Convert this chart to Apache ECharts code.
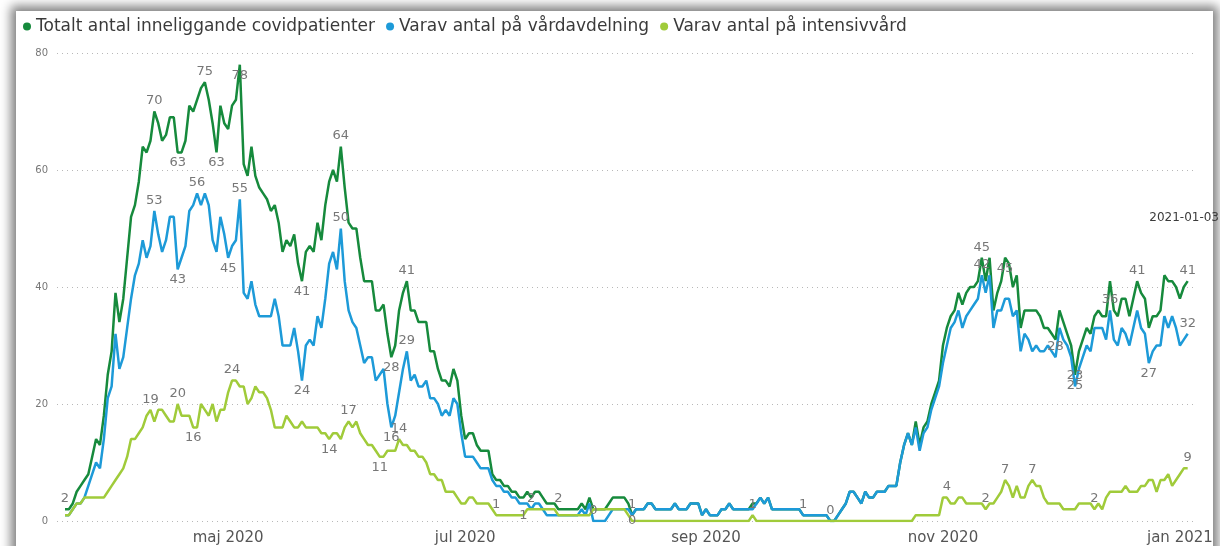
<!DOCTYPE html>
<html>
<head>
<meta charset="utf-8">
<script src="https://cdn.jsdelivr.net/npm/echarts@6/dist/echarts.min.js"></script>
<style>
  html, body { margin: 0; padding: 0; background: #fff; overflow: hidden; }
  #card { position: absolute; left: 16px; top: 11px; width: 1197px; height: 600px; background: #fff; box-shadow: 0 0 10px 5px rgba(0, 0, 0, 0.5); }
  #chart { position: absolute; left: 0; top: 0; width: 1220px; height: 546px; }
</style>
</head>
<body>
<div id="card"></div>
<div id="chart"></div>
<script>
// one value per day, day 0 = 2020-03-20, last day = 2021-01-03
const seriesNames = [
  'Totalt antal inneliggande covidpatienter',
  'Varav antal på vårdavdelning',
  'Varav antal på intensivvård'
]

const totalt = [
  2, 2, 3, 5, 6, 7, 8, 11, 14, 13,
  18, 25, 29, 39, 34, 38, 45, 52, 54, 58,
  64, 63, 65, 70, 68, 65, 66, 69, 69, 63,
  63, 65, 71, 70, 72, 74, 75, 72, 68, 63,
  71, 68, 67, 71, 72, 78, 61, 59, 64, 59,
  57, 56, 55, 53, 54, 51, 46, 48, 47, 49,
  44, 41, 46, 47, 46, 51, 48, 54, 58, 60,
  58, 64, 57, 51, 50, 50, 45, 41, 41, 41,
  36, 36, 37, 32, 28, 30, 36, 39, 41, 36,
  36, 34, 34, 34, 29, 29, 26, 24, 24, 23,
  26, 24, 18, 14, 15, 15, 13, 12, 12, 12,
  8, 7, 7, 6, 6, 5, 5, 4, 4, 5,
  4, 5, 5, 4, 3, 3, 3, 2, 2, 2,
  2, 2, 2, 3, 2, 4, 2, 2, 2, 2,
  3, 4, 4, 4, 4, 3, 1, 2, 2, 2,
  3, 3, 2, 2, 2, 2, 2, 3, 2, 2,
  2, 3, 3, 3, 1, 2, 1, 1, 1, 2,
  2, 3, 2, 2, 2, 2, 2, 3, 3, 4,
  3, 4, 2, 2, 2, 2, 2, 2, 2, 2,
  1, 1, 1, 1, 1, 1, 1, 0, 0, 1,
  2, 3, 5, 5, 4, 3, 5, 4, 4, 5,
  5, 5, 6, 6, 6, 10, 13, 15, 13, 17,
  13, 16, 17, 20, 22, 24, 30, 33, 35, 36,
  39, 37, 39, 40, 40, 41, 45, 41, 45, 36,
  39, 41, 45, 44, 40, 42, 33, 36, 36, 36,
  36, 35, 33, 33, 32, 31, 36, 34, 32, 30,
  25, 29, 31, 33, 32, 35, 36, 35, 35, 41,
  36, 35, 38, 38, 35, 38, 41, 39, 38, 33,
  35, 35, 36, 42, 41, 41, 40, 38, 40, 41
]

const vardavdelning = [
  1, 1, 2, 3, 3, 4, 6, 8, 10, 9,
  14, 21, 23, 32, 26, 28, 33, 38, 42, 44,
  48, 45, 47, 53, 49, 46, 48, 52, 52, 43,
  45, 47, 53, 54, 56, 54, 56, 54, 48, 46,
  52, 49, 45, 47, 48, 55, 39, 38, 41, 37,
  35, 35, 35, 35, 38, 35, 30, 30, 30, 33,
  29, 24, 30, 31, 30, 35, 33, 38, 44, 46,
  43, 50, 41, 36, 34, 33, 30, 27, 28, 28,
  24, 25, 26, 20, 16, 18, 22, 26, 29, 24,
  25, 23, 23, 24, 21, 21, 20, 18, 19, 18,
  21, 20, 15, 11, 11, 11, 10, 9, 9, 9,
  7, 6, 6, 5, 5, 4, 4, 3, 3, 3,
  2, 3, 3, 2, 1, 1, 1, 1, 1, 1,
  1, 1, 1, 2, 1, 3, 0, 0, 0, 0,
  1, 2, 2, 2, 2, 2, 1, 2, 2, 2,
  3, 3, 2, 2, 2, 2, 2, 3, 2, 2,
  2, 3, 3, 3, 1, 2, 1, 1, 1, 2,
  2, 3, 2, 2, 2, 2, 2, 2, 3, 4,
  3, 4, 2, 2, 2, 2, 2, 2, 2, 2,
  1, 1, 1, 1, 1, 1, 1, 0, 0, 1,
  2, 3, 5, 5, 4, 3, 5, 4, 4, 5,
  5, 5, 6, 6, 6, 10, 13, 15, 13, 16,
  12, 15, 16, 19, 21, 23, 27, 30, 33, 34,
  36, 33, 35, 36, 37, 38, 42, 39, 42, 33,
  36, 36, 38, 38, 35, 36, 29, 32, 31, 29,
  30, 29, 29, 30, 29, 28, 33, 31, 30, 28,
  23, 26, 28, 30, 29, 33, 33, 33, 31, 36,
  31, 30, 33, 32, 30, 33, 36, 33, 32, 27,
  29, 30, 30, 35, 33, 35, 33, 30, 31, 32
]

const intensivvard = [
  1, 1, 2, 3, 3, 4, 4, 4, 4, 4,
  4, 5, 6, 7, 8, 9, 11, 14, 14, 15,
  16, 18, 19, 17, 19, 19, 18, 17, 17, 20,
  18, 18, 18, 16, 16, 20, 19, 18, 20, 17,
  19, 19, 22, 24, 24, 23, 23, 20, 21, 23,
  22, 22, 21, 19, 16, 16, 16, 18, 17, 16,
  16, 17, 16, 16, 16, 16, 15, 15, 14, 15,
  15, 14, 16, 17, 16, 17, 15, 14, 13, 13,
  12, 11, 11, 12, 12, 12, 14, 13, 13, 12,
  12, 11, 11, 10, 8, 8, 7, 7, 5, 5,
  5, 4, 3, 3, 4, 4, 3, 3, 3, 3,
  2, 1, 1, 1, 1, 1, 1, 1, 1, 2,
  2, 2, 2, 2, 2, 2, 2, 1, 1, 1,
  1, 1, 1, 1, 1, 1, 2, 2, 2, 2,
  2, 2, 2, 2, 2, 1, 0, 0, 0, 0,
  0, 0, 0, 0, 0, 0, 0, 0, 0, 0,
  0, 0, 0, 0, 0, 0, 0, 0, 0, 0,
  0, 0, 0, 0, 0, 0, 0, 1, 0, 0,
  0, 0, 0, 0, 0, 0, 0, 0, 0, 0,
  0, 0, 0, 0, 0, 0, 0, 0, 0, 0,
  0, 0, 0, 0, 0, 0, 0, 0, 0, 0,
  0, 0, 0, 0, 0, 0, 0, 0, 0, 1,
  1, 1, 1, 1, 1, 1, 4, 4, 3, 3,
  4, 4, 3, 3, 3, 3, 3, 2, 3, 3,
  4, 5, 7, 6, 4, 6, 4, 4, 6, 7,
  6, 6, 4, 3, 3, 3, 3, 2, 2, 2,
  2, 3, 3, 3, 3, 2, 3, 2, 4, 5,
  5, 5, 5, 6, 5, 5, 5, 6, 6, 7,
  7, 5, 7, 7, 8, 6, 7, 8, 9, 9
]

// x axis tick labels at the first day of every second month
const tickDays = [42, 103, 165, 226, 287]
const tickLabels = ['maj 2020', 'jul 2020', 'sep 2020', 'nov 2020', 'jan 2021']

// which days show a data label, and where
const totaltLabels = {0: 'top', 23: 'top', 29: 'bottom', 36: 'top', 39: 'bottom', 45: 'bottom', 61: 'bottom', 71: 'top', 84: 'bottom', 88: 'top', 127: 'top', 146: 'top', 236: 'top', 242: 'bottom', 260: 'bottom', 276: 'top', 289: 'top'}
const vardLabels = {23: 'top', 29: 'bottom', 34: 'top', 42: 'bottom', 45: 'top', 61: 'bottom', 71: 'top', 84: 'bottom', 88: 'top', 120: 'top', 136: 'top', 190: 'top', 197: 'top', 236: 'top', 255: 'top', 260: 'top', 269: 'top', 279: 'bottom', 289: 'top'}
const ivaLabels = {22: 'top', 29: 'top', 33: 'bottom', 43: 'top', 68: 'bottom', 73: 'top', 81: 'bottom', 86: 'top', 111: 'top', 118: 'inside', 146: 'inside', 177: 'top', 227: 'top', 237: 'top', 242: 'top', 249: 'top', 265: 'top', 289: 'top'}

const colors = ['#168a3c', '#1d9ad8', '#a0cb3a']
const font = 'DejaVu Sans'

function buildData (values, labels) {
  return values.map(function (v, i) {
    if (labels[i]) {
      return {value: [i, v], label: {show: true, position: labels[i]}}
    }
    return [i, v]
  })
}

function lineSeries (name, values, labels, color) {
  return {
    name: name,
    type: 'line',
    data: buildData(values, labels),
    symbol: 'circle',
    symbolSize: 0,
    showSymbol: true,
    showAllSymbol: true,
    lineStyle: {width: 2.5, color: color},
    itemStyle: {color: color},
    label: {color: '#777', fontSize: 13, fontFamily: font, distance: 4},
    emphasis: {disabled: true}
  }
}

let chart = echarts.init(document.getElementById('chart'))
let option = {
  animation: false,
  legend: {
    left: 23,
    top: 18,
    padding: 0,
    icon: 'circle',
    itemWidth: 8,
    itemHeight: 8,
    itemGap: 11,
    textStyle: {fontSize: 17, fontFamily: font, color: '#3a3a3a'},
    data: seriesNames
  },
  grid: {left: 57, right: 23, top: 53, bottom: 24},
  xAxis: {
    type: 'value',
    min: -2.06,
    max: 291.4,
    axisLine: {show: false},
    axisTick: {show: false},
    splitLine: {show: false},
    axisLabel: {
      customValues: tickDays,
      margin: 10,
      fontSize: 15,
      fontFamily: font,
      color: '#555',
      formatter: function (value) {
        return tickLabels[tickDays.indexOf(value)]
      }
    }
  },
  yAxis: {
    type: 'value',
    min: 0,
    max: 80,
    interval: 20,
    axisLine: {show: false},
    axisTick: {show: false},
    axisLabel: {margin: 9, fontSize: 10, fontFamily: font, color: '#777'},
    splitLine: {lineStyle: {type: [1, 4], color: '#b8b8b8', width: 1}}
  },
  graphic: [
    {
      type: 'text',
      right: 1,
      top: 212,
      style: {text: '2021-01-03', fontSize: 12, fontFamily: font, fill: '#3b3b3b'}
    }
  ],
  series: [
    lineSeries(seriesNames[0], totalt, totaltLabels, colors[0]),
    lineSeries(seriesNames[1], vardavdelning, vardLabels, colors[1]),
    lineSeries(seriesNames[2], intensivvard, ivaLabels, colors[2])
  ]
}
chart.setOption(option)
</script>
</body>
</html>
